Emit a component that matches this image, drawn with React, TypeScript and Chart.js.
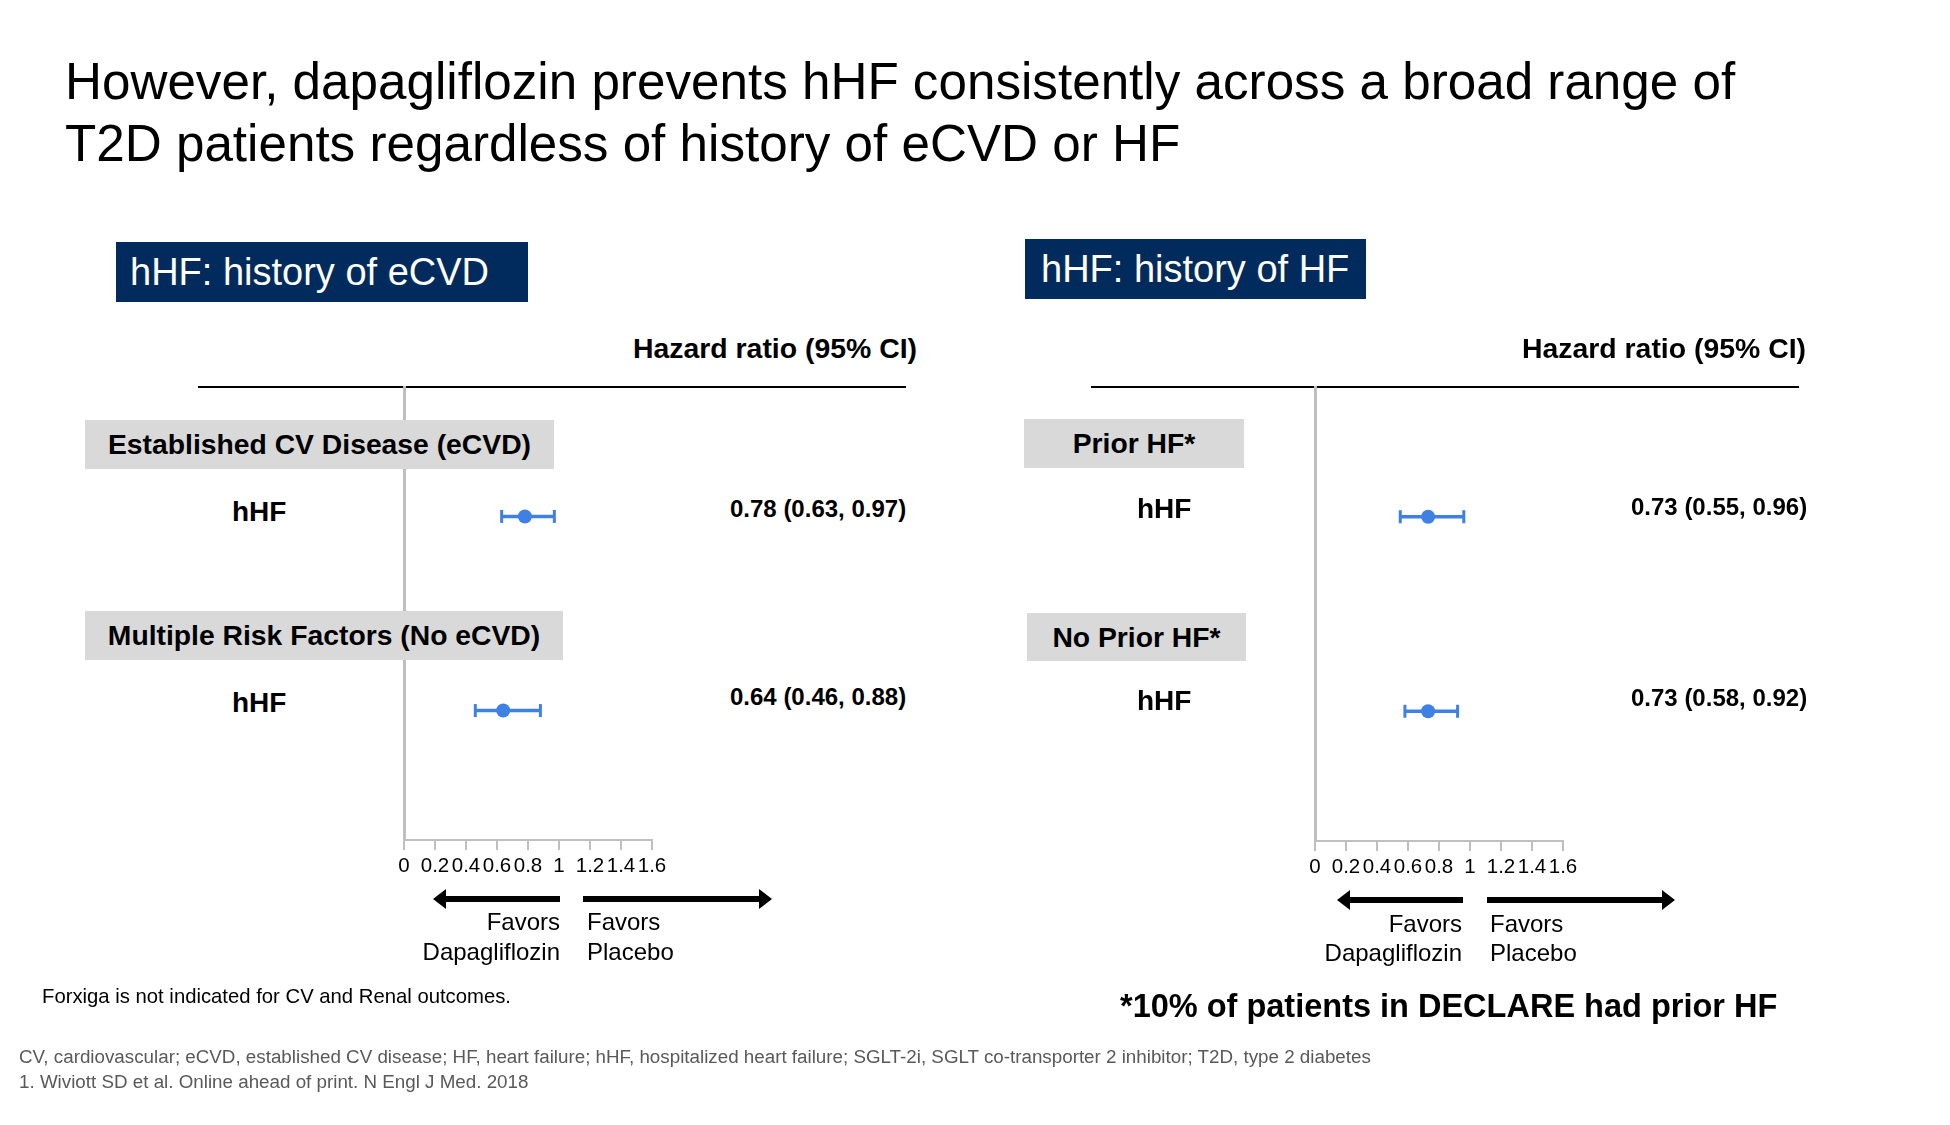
import React, { useEffect, useRef } from "react";
import { Chart, registerables } from "chart.js";

Chart.register(...registerables);

const FONT = '"Liberation Sans", Arial, Helvetica, sans-serif';
const BLUE = "#3f80e4";
const GRAY = "#bfbfbf";
const NAVY = "#002b5c";
const BOXGRAY = "#d9d9d9";

// ---------- data ----------
const titleLines = [
  "However, dapagliflozin prevents hHF consistently across a broad range of",
  "T2D patients regardless of history of eCVD or HF",
];

const leftPanelTitle = "hHF: history of eCVD";
const leftGroups = ["Established CV Disease (eCVD)", "Multiple Risk Factors (No eCVD)"];
const leftOutcomes = ["hHF", "hHF"];
const leftHR = [0.78, 0.64];
const leftLow = [0.63, 0.46];
const leftHigh = [0.97, 0.88];

const rightPanelTitle = "hHF: history of HF";
const rightGroups = ["Prior HF*", "No Prior HF*"];
const rightOutcomes = ["hHF", "hHF"];
const rightHR = [0.73, 0.73];
const rightLow = [0.55, 0.58];
const rightHigh = [0.96, 0.92];

const xTicks = [0, 0.2, 0.4, 0.6, 0.8, 1, 1.2, 1.4, 1.6];
const columnHeader = "Hazard ratio (95% CI)";
const favorsLeft = ["Favors", "Dapagliflozin"];
const favorsRight = ["Favors", "Placebo"];
const noteText = "Forxiga is not indicated for CV and Renal outcomes.";
const footnoteText = "*10% of patients in DECLARE had prior HF";
const footerLines = [
  "CV, cardiovascular; eCVD, established CV disease; HF, heart failure; hHF, hospitalized heart failure; SGLT-2i, SGLT co-transporter 2 inhibitor; T2D, type 2 diabetes",
  "1. Wiviott SD et al. Online ahead of print. N Engl J Med. 2018",
];

const fmtHR = (hr: number, lo: number, hi: number) =>
  `${hr.toFixed(2)} (${lo.toFixed(2)}, ${hi.toFixed(2)})`;

// ---------- chart ----------
type ChartProps = {
  hr: number[];
  low: number[];
  high: number[];
  left: number;
  top: number;
  width: number;
  height: number;
};

function ForestChart({ hr, low, high, left, top, width, height }: ChartProps) {
  const ref = useRef<HTMLCanvasElement>(null);
  useEffect(() => {
    if (!ref.current) return;
    const errorBars = {
      id: "errorBars",
      beforeDatasetsDraw(chart: any) {
        const { ctx, scales } = chart;
        const xs = scales.x;
        const ys = scales.y;
        ctx.save();
        ctx.strokeStyle = BLUE;
        hr.forEach((_, i) => {
          const py = ys.getPixelForValue(i);
          const x1 = xs.getPixelForValue(low[i]);
          const x2 = xs.getPixelForValue(high[i]);
          ctx.lineWidth = 3.5;
          ctx.beginPath();
          ctx.moveTo(x1, py);
          ctx.lineTo(x2, py);
          ctx.stroke();
          ctx.lineWidth = 3;
          [x1, x2].forEach((px) => {
            ctx.beginPath();
            ctx.moveTo(px, py - 6.5);
            ctx.lineTo(px, py + 6.5);
            ctx.stroke();
          });
        });
        ctx.restore();
      },
    };
    const chart = new Chart(ref.current, {
      type: "scatter",
      data: {
        datasets: [
          {
            data: hr.map((v, i) => ({ x: v, y: i })),
            pointRadius: 7,
            pointHoverRadius: 7,
            pointBackgroundColor: BLUE,
            pointBorderColor: BLUE,
            pointBorderWidth: 0,
          },
        ],
      },
      options: {
        animation: false,
        responsive: false,
        maintainAspectRatio: false,
        devicePixelRatio: 1,
        layout: { padding: { left: 24, top: 7, right: 58, bottom: 0 } },
        plugins: { legend: { display: false }, tooltip: { enabled: false } },
        scales: {
          x: {
            type: "linear",
            min: 0,
            max: 1.6,
            afterBuildTicks: (s: any) => {
              s.ticks = xTicks.map((v) => ({ value: v }));
            },
            afterFit: (s: any) => {
              s.height = 50;
            },
            grid: {
              drawOnChartArea: false,
              drawTicks: true,
              tickLength: 10,
              color: GRAY,
              lineWidth: 2,
            },
            border: { display: true, color: GRAY, width: 2 },
            ticks: {
              color: "#000",
              font: { size: 20.5, family: FONT },
              padding: 4,
              maxRotation: 0,
              minRotation: 0,
              autoSkip: false,
              callback: (v: any) => String(v),
            },
          },
          y: {
            type: "linear",
            min: -2 / 3,
            max: 5 / 3,
            reverse: true,
            afterFit: (s: any) => {
              s.width = 0;
            },
            grid: { display: false },
            ticks: { display: false },
            border: { display: true, color: GRAY, width: 3 },
          },
        },
      },
      plugins: [errorBars],
    } as any);
    return () => chart.destroy();
  }, []);
  return (
    <canvas
      ref={ref}
      width={width}
      height={height}
      style={{ position: "absolute", left, top, width, height }}
    />
  );
}

// ---------- helpers ----------
type TProps = {
  x: number;
  y: number;
  size: number;
  bold?: boolean;
  color?: string;
  align?: "left" | "right";
  children: React.ReactNode;
};
function T({ x, y, size, bold, color = "#000", align = "left", children }: TProps) {
  const style: React.CSSProperties = {
    position: "absolute",
    top: y,
    transform: "translateY(-50%)",
    fontSize: size,
    fontWeight: bold ? 700 : 400,
    lineHeight: 1,
    whiteSpace: "nowrap",
    color,
  };
  if (align === "right") style.right = 1950 - x;
  else style.left = x;
  return <div style={style}>{children}</div>;
}

function Box({
  x, y, w, h, bg, color, size, bold, pad, center, children,
}: {
  x: number; y: number; w: number; h: number; bg: string; color: string; size: number;
  bold?: boolean; pad?: number; center?: boolean; children: React.ReactNode;
}) {
  return (
    <div
      style={{
        position: "absolute",
        left: x,
        top: y,
        width: w,
        height: h,
        background: bg,
        color,
        fontSize: size,
        fontWeight: bold ? 700 : 400,
        display: "flex",
        alignItems: "center",
        justifyContent: center ? "center" : "flex-start",
        paddingLeft: pad || 0,
        boxSizing: "border-box",
        whiteSpace: "nowrap",
        lineHeight: 1,
      }}
    >
      {children}
    </div>
  );
}

function Arrows({ lx1, lx2, rx1, rx2, y }: { lx1: number; lx2: number; rx1: number; rx2: number; y: number }) {
  const t = 6;
  const hl = 13;
  const hh = 10;
  return (
    <svg
      width={1950}
      height={1125}
      style={{ position: "absolute", left: 0, top: 0, pointerEvents: "none" }}
    >
      <rect x={lx1 + hl - 1} y={y - t / 2} width={lx2 - lx1 - hl + 1} height={t} fill="#000" />
      <polygon points={`${lx1},${y} ${lx1 + hl},${y - hh} ${lx1 + hl},${y + hh}`} fill="#000" />
      <rect x={rx1} y={y - t / 2} width={rx2 - rx1 - hl + 1} height={t} fill="#000" />
      <polygon points={`${rx2},${y} ${rx2 - hl},${y - hh} ${rx2 - hl},${y + hh}`} fill="#000" />
    </svg>
  );
}

export default function App() {
  return (
    <div
      style={{
        position: "absolute",
        left: 0,
        top: 0,
        width: 1950,
        height: 1125,
        background: "#fff",
        fontFamily: FONT,
        overflow: "hidden",
      }}
    >
      {/* Title */}
      <T x={65} y={82} size={51.2}>{titleLines[0]}</T>
      <T x={65} y={144} size={51.2}>{titleLines[1]}</T>

      {/* ---------- Left panel ---------- */}
      <Box x={116} y={242} w={412} h={60} bg={NAVY} color="#fff" size={38} pad={14}>
        {leftPanelTitle}
      </Box>
      <T x={633} y={348} size={28.4} bold>{columnHeader}</T>
      <div style={{ position: "absolute", left: 198, top: 386, width: 708, height: 2, background: "#000" }} />
      <ForestChart hr={leftHR} low={leftLow} high={leftHigh} left={380} top={380} width={330} height={510} />
      <Box x={85} y={420} w={469} h={49} bg={BOXGRAY} color="#000" size={28.3} bold center>
        {leftGroups[0]}
      </Box>
      <Box x={85} y={611} w={478} h={49} bg={BOXGRAY} color="#000" size={28.3} bold center>
        {leftGroups[1]}
      </Box>
      <T x={232} y={512} size={28} bold>{leftOutcomes[0]}</T>
      <T x={232} y={703} size={28} bold>{leftOutcomes[1]}</T>
      <T x={730} y={509} size={24} bold>{fmtHR(leftHR[0], leftLow[0], leftHigh[0])}</T>
      <T x={730} y={697} size={24} bold>{fmtHR(leftHR[1], leftLow[1], leftHigh[1])}</T>
      <Arrows lx1={433} lx2={560} rx1={583} rx2={772} y={899} />
      <T x={560} y={922} size={24} align="right">{favorsLeft[0]}</T>
      <T x={560} y={952} size={24} align="right">{favorsLeft[1]}</T>
      <T x={587} y={922} size={24}>{favorsRight[0]}</T>
      <T x={587} y={952} size={24}>{favorsRight[1]}</T>

      {/* ---------- Right panel ---------- */}
      <Box x={1025} y={239} w={341} h={60} bg={NAVY} color="#fff" size={38} pad={16}>
        {rightPanelTitle}
      </Box>
      <T x={1522} y={348} size={28.4} bold>{columnHeader}</T>
      <div style={{ position: "absolute", left: 1091, top: 386, width: 708, height: 2, background: "#000" }} />
      <ForestChart hr={rightHR} low={rightLow} high={rightHigh} left={1291} top={380} width={330} height={511} />
      <Box x={1024} y={419} w={220} h={49} bg={BOXGRAY} color="#000" size={28.3} bold center>
        {rightGroups[0]}
      </Box>
      <Box x={1027} y={613} w={219} h={48} bg={BOXGRAY} color="#000" size={28.3} bold center>
        {rightGroups[1]}
      </Box>
      <T x={1137} y={509} size={28} bold>{rightOutcomes[0]}</T>
      <T x={1137} y={701} size={28} bold>{rightOutcomes[1]}</T>
      <T x={1631} y={507} size={24} bold>{fmtHR(rightHR[0], rightLow[0], rightHigh[0])}</T>
      <T x={1631} y={698} size={24} bold>{fmtHR(rightHR[1], rightLow[1], rightHigh[1])}</T>
      <Arrows lx1={1337} lx2={1463} rx1={1487} rx2={1675} y={900} />
      <T x={1462} y={924} size={24} align="right">{favorsLeft[0]}</T>
      <T x={1462} y={953} size={24} align="right">{favorsLeft[1]}</T>
      <T x={1490} y={924} size={24}>{favorsRight[0]}</T>
      <T x={1490} y={953} size={24}>{favorsRight[1]}</T>

      {/* ---------- Notes & footer ---------- */}
      <T x={42} y={996} size={20.3}>{noteText}</T>
      <T x={1120} y={1006} size={32.5} bold>{footnoteText}</T>
      <T x={19} y={1057} size={18.8} color="#595959">{footerLines[0]}</T>
      <T x={19} y={1082} size={18.8} color="#595959">{footerLines[1]}</T>
    </div>
  );
}
